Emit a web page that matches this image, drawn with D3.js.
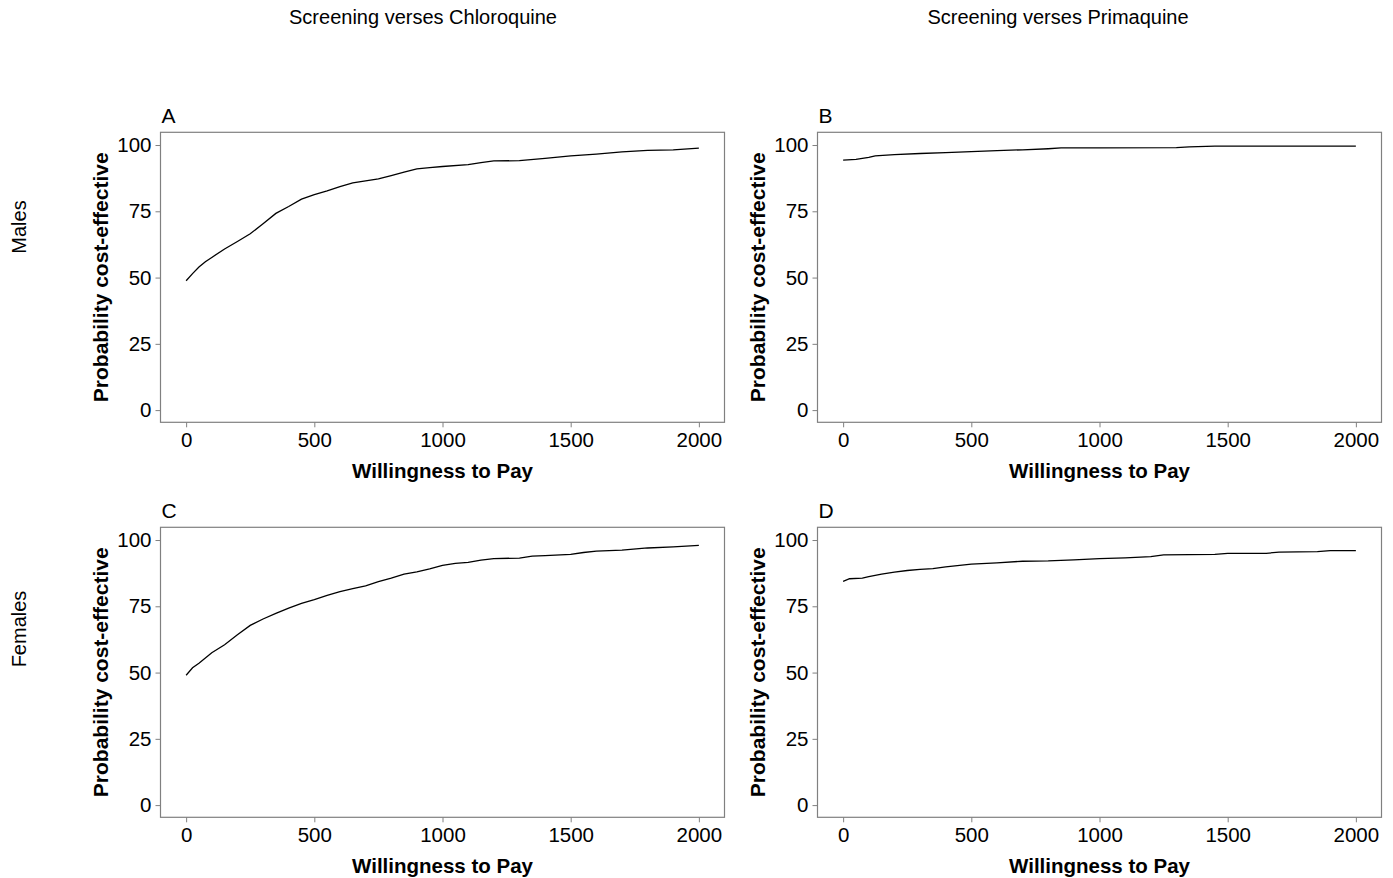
<!DOCTYPE html>
<html lang="en">
<head>
    <meta charset="UTF-8">
    <title>Cost-effectiveness acceptability curves</title>
    <style>
        body {
            margin: 0;
            background-color: #ffffff;
        }
        svg {
            display: block;
        }
        text {
            font-family: "Liberation Sans", Arial, sans-serif;
            fill: #000000;
        }
    </style>
    <script src="https://d3js.org/d3.v7.min.js"></script>
</head>
<body>
    <svg width="1393" height="878"></svg>

    <script>
        // Column and row headings
        const columnTitles = ["Screening verses Chloroquine", "Screening verses Primaquine"];
        const rowTitles = ["Males", "Females"];
        const panelLetters = ["A", "B", "C", "D"];

        const xTicks = [0, 500, 1000, 1500, 2000];
        const yTicks = [0, 25, 50, 75, 100];

        // A: males, screening vs chloroquine
        const wtpA = [0, 25, 50, 75, 100, 150, 200, 250, 300, 350, 400, 450, 500, 550, 600, 650, 700, 750, 800, 850, 900, 950, 1000, 1100, 1150, 1200, 1300, 1400, 1500, 1600, 1700, 1800, 1900, 2000];
        const probA = [48.8, 51.5, 54, 56, 57.6, 60.8, 63.6, 66.5, 70.3, 74.2, 76.8, 79.6, 81.3, 82.7, 84.3, 85.7, 86.5, 87.2, 88.5, 89.8, 91.0, 91.5, 91.9, 92.6, 93.4, 94.0, 94.1, 95.0, 95.9, 96.6, 97.4, 98.0, 98.2, 98.8];

        // B: males, screening vs primaquine
        const wtpB = [0, 50, 100, 125, 200, 300, 400, 500, 600, 700, 800, 850, 1000, 1300, 1350, 1450, 2000];
        const probB = [94.3, 94.6, 95.3, 95.9, 96.4, 96.8, 97.1, 97.5, 97.9, 98.2, 98.6, 98.9, 98.9, 99.0, 99.3, 99.6, 99.6];

        // C: females, screening vs chloroquine
        const wtpC = [0, 25, 50, 100, 150, 200, 250, 300, 350, 400, 450, 500, 550, 600, 650, 700, 750, 800, 850, 900, 950, 1000, 1050, 1100, 1150, 1200, 1300, 1350, 1400, 1500, 1550, 1600, 1700, 1800, 1900, 2000];
        const probC = [49.0, 51.8, 53.5, 57.5, 60.5, 64.3, 67.8, 70.2, 72.3, 74.3, 76.1, 77.5, 79.1, 80.5, 81.7, 82.7, 84.3, 85.6, 87.1, 88.0, 89.1, 90.4, 91.2, 91.6, 92.4, 93.0, 93.2, 93.9, 94.1, 94.6, 95.3, 95.8, 96.2, 97.0, 97.4, 98.0];

        // D: females, screening vs primaquine
        const wtpD = [0, 25, 75, 100, 150, 200, 250, 300, 350, 400, 500, 600, 700, 800, 900, 1000, 1100, 1200, 1250, 1450, 1500, 1650, 1700, 1850, 1900, 2000];
        const probD = [84.4, 85.4, 85.6, 86.2, 87.1, 87.9, 88.5, 88.9, 89.2, 89.9, 90.9, 91.4, 92.0, 92.1, 92.5, 93.0, 93.3, 93.7, 94.4, 94.6, 95.0, 95.0, 95.4, 95.6, 96.0, 96.0];

        const panels = [
            { letter: panelLetters[0], wtp: wtpA, prob: probA, col: 0, row: 0 },
            { letter: panelLetters[1], wtp: wtpB, prob: probB, col: 1, row: 0 },
            { letter: panelLetters[2], wtp: wtpC, prob: probC, col: 0, row: 1 },
            { letter: panelLetters[3], wtp: wtpD, prob: probD, col: 1, row: 1 }
        ];

        // Frame geometry (plot region of each panel)
        const colLeft = [160.5, 817.5];
        const rowTop = [132.3, 527.3];
        const frameW = 564;
        const frameH = 290;

        const svg = d3.select("svg");

        // Column titles
        svg.selectAll("text.col-title")
            .data(columnTitles)
            .enter().append("text")
            .attr("class", "col-title")
            .attr("x", (d, i) => [423, 1058][i])
            .attr("y", 24)
            .attr("text-anchor", "middle")
            .style("font-size", "20px")
            .text(d => d);

        // Row titles (rotated)
        svg.selectAll("text.row-title")
            .data(rowTitles)
            .enter().append("text")
            .attr("class", "row-title")
            .attr("transform", (d, i) => `translate(26,${[227, 629][i]}) rotate(-90)`)
            .attr("text-anchor", "middle")
            .style("font-size", "20px")
            .text(d => d);

        panels.forEach(p => {
            const left = colLeft[p.col];
            const top = rowTop[p.row];

            const x = d3.scaleLinear().domain([-100, 2100]).range([left, left + frameW]);
            const y = d3.scaleLinear().domain([-4.6, 104.8]).range([top + frameH, top]);

            const g = svg.append("g");

            // Frame
            g.append("rect")
                .attr("x", left)
                .attr("y", top)
                .attr("width", frameW)
                .attr("height", frameH)
                .attr("fill", "none")
                .attr("stroke", "#808080")
                .attr("stroke-width", 1.2);

            // X axis
            const xAxis = g.append("g")
                .attr("transform", `translate(0,${top + frameH})`)
                .call(d3.axisBottom(x).tickValues(xTicks).tickSize(5).tickPadding(5).tickFormat(d3.format("d")));
            xAxis.select(".domain").remove();
            xAxis.selectAll("line").attr("stroke", "#808080");
            xAxis.selectAll("text")
                .style("font-size", "20.5px")
                .style("font-family", "'Liberation Sans', Arial, sans-serif")
                .attr("fill", "#000");

            // Y axis
            const yAxis = g.append("g")
                .attr("transform", `translate(${left},0)`)
                .call(d3.axisLeft(y).tickValues(yTicks).tickSize(5).tickPadding(4));
            yAxis.select(".domain").remove();
            yAxis.selectAll("line").attr("stroke", "#808080");
            yAxis.selectAll("text")
                .style("font-size", "20.5px")
                .style("font-family", "'Liberation Sans', Arial, sans-serif")
                .attr("fill", "#000");

            // Axis titles
            g.append("text")
                .attr("x", x(1000))
                .attr("y", top + frameH + 56)
                .attr("text-anchor", "middle")
                .style("font-size", "20.5px")
                .style("font-weight", "bold")
                .text("Willingness to Pay");

            g.append("text")
                .attr("transform", `translate(${left - 53},${top + frameH / 2}) rotate(-90)`)
                .attr("text-anchor", "middle")
                .style("font-size", "21px")
                .style("font-weight", "bold")
                .text("Probability cost-effective");

            // Panel letter
            g.append("text")
                .attr("x", left + 1)
                .attr("y", top - 9.6)
                .style("font-size", "21px")
                .text(p.letter);

            // Curve
            const line = d3.line()
                .x((d, i) => x(p.wtp[i]))
                .y(d => y(d));

            g.append("path")
                .datum(p.prob)
                .attr("d", line)
                .attr("fill", "none")
                .attr("stroke", "#000")
                .attr("stroke-width", 1.3);
        });
    </script>
</body>
</html>
